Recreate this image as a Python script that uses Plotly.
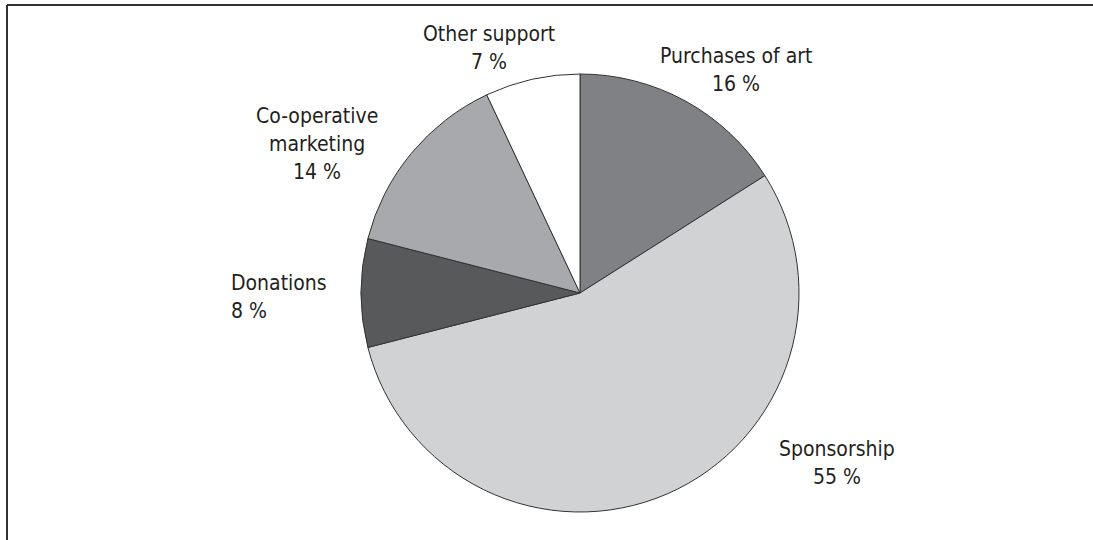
import plotly.graph_objects as go

# slices, clockwise from 12 o'clock
labels = ["Purchases of art", "Sponsorship", "Donations", "Co-operative marketing", "Other support"]
values = [16, 55, 8, 14, 7]
colors = ["#808184", "#d1d2d4", "#58595b", "#a7a9ac", "#ffffff"]

# label lines as shown next to the pie
label_lines = [["Purchases of art"], ["Sponsorship"], ["Donations"],
               ["Co-operative", "marketing"], ["Other support"]]

W, H = 1093, 540
cx, cy, r = 580, 293, 219

fig = go.Figure(go.Pie(
    labels=labels,
    values=values,
    sort=False,
    direction="clockwise",
    rotation=0,
    marker=dict(colors=colors, line=dict(color="#333333", width=1)),
    textinfo="none",
    showlegend=False,
    domain=dict(x=[(cx - r) / W, (cx + r) / W], y=[1 - (cy + r) / H, 1 - (cy - r) / H]),
))

# first line position in pixels (x, y of text center), alignment
label_pos = [(736, 56, "center"), (837, 449, "center"), (229, 283, "left"),
             (317, 116, "center"), (489, 34, "center")]
LINE = 28

font = dict(family="DejaVu Sans Condensed, Liberation Sans Narrow, Arial Narrow, sans-serif",
            size=21, color="#231f20")

for lines, v, (px, py, al) in zip(label_lines, values, label_pos):
    for i, txt in enumerate(lines + [f"{v} %"]):
        fig.add_annotation(
            x=px / W, y=1 - (py + i * LINE) / H, xref="paper", yref="paper",
            text=txt, showarrow=False,
            xanchor="left" if al == "left" else "center", yanchor="middle",
            font=font,
        )

# frame lines (top and left)
fig.add_shape(type="line", xref="paper", yref="paper", x0=7 / W, x1=1,
              y0=1 - 5 / H, y1=1 - 5 / H, line=dict(color="#333333", width=2))
fig.add_shape(type="line", xref="paper", yref="paper", x0=7 / W, x1=7 / W,
              y0=0, y1=1 - 5 / H, line=dict(color="#333333", width=2))

fig.update_layout(
    width=W, height=H,
    margin=dict(l=0, r=0, t=0, b=0),
    paper_bgcolor="white",
    plot_bgcolor="white",
)

# drop the default page margin so the figure sits at the window corner
fig.write_html("out.html", config={"displayModeBar": False},
               post_script="document.body.style.margin='0';")
